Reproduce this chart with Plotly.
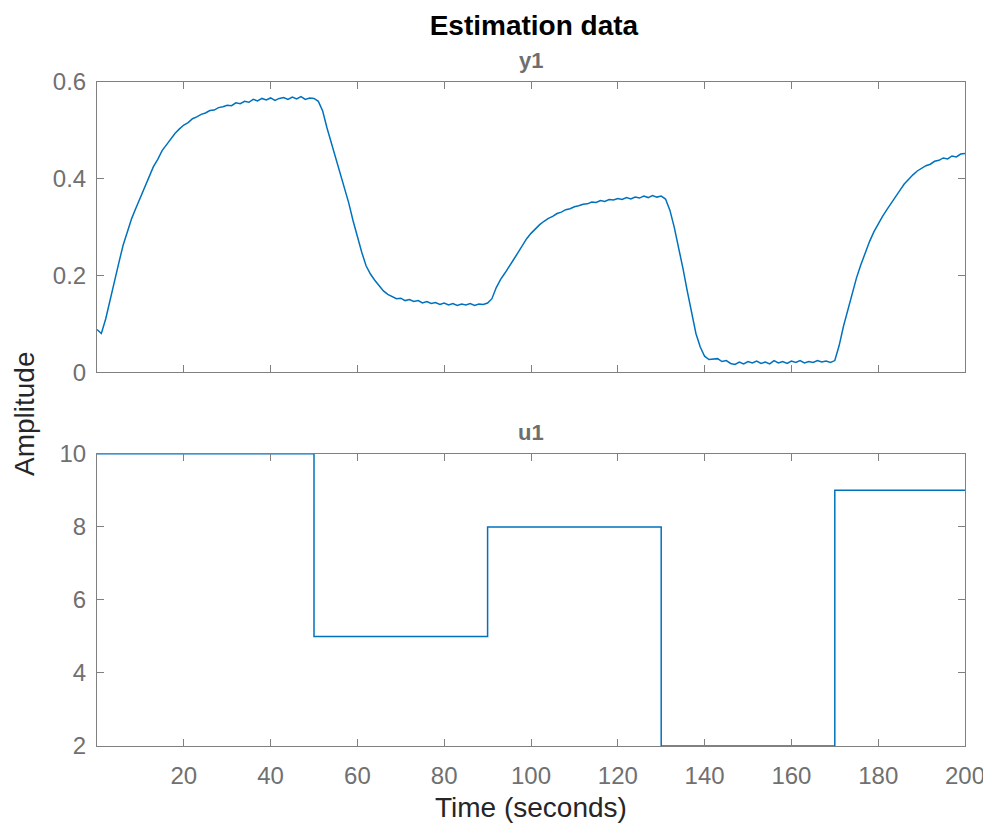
import plotly.graph_objects as go
from plotly.subplots import make_subplots

# ---- data ----
time_s = list(range(0, 201))

y1 = [
    0.088, 0.080, 0.110, 0.150, 0.190, 0.225, 0.262, 0.290, 0.318, 0.340,
    0.362, 0.385, 0.405, 0.425, 0.440, 0.458, 0.470, 0.482, 0.494, 0.503,
    0.511, 0.516, 0.524, 0.528, 0.533, 0.536, 0.541, 0.542, 0.547, 0.549,
    0.552, 0.551, 0.557, 0.555, 0.560, 0.558, 0.564, 0.561, 0.566, 0.563,
    0.567, 0.562, 0.566, 0.568, 0.564, 0.569, 0.565, 0.570, 0.564, 0.567,
    0.566, 0.560, 0.540, 0.505, 0.475, 0.445, 0.415, 0.385, 0.350, 0.313,
    0.278, 0.248, 0.220, 0.203, 0.190, 0.178, 0.168, 0.161, 0.157, 0.152,
    0.153, 0.148, 0.150, 0.146, 0.148, 0.143, 0.146, 0.142, 0.144, 0.140,
    0.143, 0.139, 0.142, 0.138, 0.141, 0.139, 0.142, 0.138, 0.141, 0.140,
    0.143, 0.152, 0.175, 0.192, 0.205, 0.218, 0.233, 0.247, 0.262, 0.276,
    0.287, 0.297, 0.305, 0.312, 0.318, 0.322, 0.328, 0.331, 0.336, 0.338,
    0.342, 0.344, 0.347, 0.348, 0.352, 0.351, 0.355, 0.353, 0.357, 0.356,
    0.359, 0.357, 0.361, 0.358, 0.362, 0.360, 0.364, 0.361, 0.365, 0.362,
    0.364, 0.358, 0.335, 0.300, 0.260, 0.215, 0.168, 0.120, 0.080, 0.052,
    0.033, 0.026, 0.027, 0.028, 0.022, 0.024, 0.018, 0.016, 0.021, 0.017,
    0.022, 0.019, 0.023, 0.018, 0.021, 0.017, 0.024, 0.019, 0.022, 0.018,
    0.023, 0.020, 0.024, 0.019, 0.022, 0.020, 0.024, 0.021, 0.023, 0.020,
    0.024, 0.055, 0.095, 0.130, 0.163, 0.195, 0.222, 0.248, 0.270, 0.290,
    0.307, 0.322, 0.336, 0.350, 0.363, 0.376, 0.389, 0.399, 0.408, 0.416,
    0.421, 0.427, 0.430, 0.436, 0.438, 0.443, 0.441, 0.447, 0.445, 0.451,
    0.452,
]

# input u1: piecewise-constant levels (step times and values)
u1_times = [0, 50, 50, 90, 90, 130, 130, 170, 170, 200]
u1_vals = [10, 10, 5, 5, 8, 8, 2, 2, 9, 9]

x_ticks = [20, 40, 60, 80, 100, 120, 140, 160, 180, 200]
y1_ticks = [0, 0.2, 0.4, 0.6]
u1_ticks = [2, 4, 6, 8, 10]

LINE = "#0072BD"
AXIS = "#808080"
TICKC = "#707070"
FONT = "Liberation Sans, Arial, Helvetica, sans-serif"

fig = make_subplots(rows=2, cols=1, shared_xaxes=False, vertical_spacing=0.123)

fig.add_trace(go.Scatter(x=time_s, y=y1, mode="lines",
                         line=dict(color=LINE, width=1.5), showlegend=False),
              row=1, col=1)
fig.add_trace(go.Scatter(x=u1_times, y=u1_vals, mode="lines",
                         line=dict(color=LINE, width=1.5), showlegend=False),
              row=2, col=1)

common = dict(showgrid=False, zeroline=False, showline=True, linecolor=AXIS,
              linewidth=1, mirror="allticks", ticks="inside", ticklen=7,
              tickcolor=AXIS, tickwidth=1,
              tickfont=dict(family=FONT, size=24, color=TICKC))

fig.update_xaxes(range=[0, 200], tickvals=x_ticks, showticklabels=False,
                 domain=[0, 1], row=1, col=1, **common)
fig.update_xaxes(range=[0, 200], tickvals=x_ticks, showticklabels=True,
                 domain=[0, 1], row=2, col=1, ticklabelstandoff=8, **common)
fig.update_yaxes(range=[0, 0.6], tickvals=y1_ticks, ticktext=["0", "0.2", "0.4", "0.6"],
                 domain=[0.563, 1.0], row=1, col=1, ticklabelstandoff=5, **common)
fig.update_yaxes(range=[2, 10], tickvals=u1_ticks, domain=[0.0, 0.44],
                 row=2, col=1, ticklabelstandoff=5, **common)

fig.update_layout(
    width=983, height=818,
    margin=dict(l=89, r=26, t=74, b=80, autoexpand=False),
    plot_bgcolor="white", paper_bgcolor="white",
    font=dict(family=FONT),
    title=dict(text="<b>Estimation data</b>", x=0.535, xanchor="center",
               y=1 - 17 / 818, yref="container", yanchor="middle", pad=dict(t=0),
               font=dict(family=FONT, size=28, color="#000000")),
    annotations=[
        dict(text="<b>y1</b>", xref="paper", yref="paper", x=0.5, y=1.0,
             yshift=22, xanchor="center", yanchor="middle", showarrow=False,
             font=dict(family=FONT, size=22, color="#6e6e6e")),
        dict(text="<b>u1</b>", xref="paper", yref="paper", x=0.5, y=0.44,
             yshift=21, xanchor="center", yanchor="middle", showarrow=False,
             font=dict(family=FONT, size=22, color="#6e6e6e")),
        dict(text="Amplitude", xref="paper", yref="paper", x=0, xshift=-73,
             y=0.5, xanchor="center", yanchor="middle", showarrow=False,
             textangle=-90,
             font=dict(family=FONT, size=28, color="#262626")),
        dict(text="Time (seconds)", xref="paper", yref="paper", x=0.5, y=0,
             yshift=-61, xanchor="center", yanchor="middle", showarrow=False,
             font=dict(family=FONT, size=28, color="#262626")),
    ],
)

fig.write_html("out.html")
